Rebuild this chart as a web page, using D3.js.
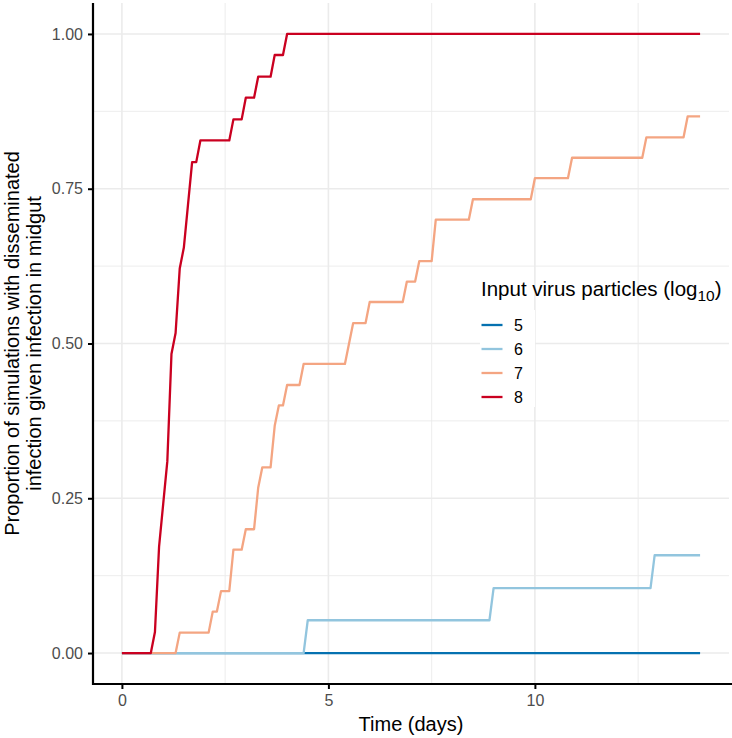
<!DOCTYPE html>
<html>
<head>
<meta charset="utf-8">
<script src="https://cdn.jsdelivr.net/npm/d3@7"></script>
<style>
  html, body { margin: 0; padding: 0; background: #fff; }
  svg { display: block; font-family: "Liberation Sans", Arial, Helvetica, sans-serif; }
</style>
</head>
<body>
<svg id="chart" width="732" height="738"></svg>
<script>
// ---------- data (time in days, proportion) ----------
const seriesLevels = ["5", "6", "7", "8"];
const seriesColors = ["#0571b0", "#92c5de", "#f4a582", "#ca0020"];

const series5 = [[0, 0], [14, 0]];

const series6 = [[0, 0], [4.4, 0], [4.5, 0.053], [8.9, 0.053], [9.0, 0.105],
  [12.8, 0.105], [12.9, 0.158], [14, 0.158]];

const series7 = [[0, 0], [1.3, 0], [1.4, 0.033], [2.1, 0.033], [2.2, 0.067], [2.3, 0.067],
  [2.4, 0.1], [2.6, 0.1], [2.7, 0.167], [2.9, 0.167], [3.0, 0.2], [3.2, 0.2], [3.3, 0.267],
  [3.4, 0.3], [3.6, 0.3], [3.7, 0.367], [3.8, 0.4], [3.9, 0.4], [4.0, 0.433], [4.3, 0.433],
  [4.4, 0.467], [5.4, 0.467], [5.5, 0.5], [5.6, 0.533], [5.9, 0.533], [6.0, 0.567],
  [6.8, 0.567], [6.9, 0.6], [7.1, 0.6], [7.2, 0.633], [7.5, 0.633], [7.6, 0.7], [8.4, 0.7],
  [8.5, 0.733], [9.9, 0.733], [10.0, 0.767], [10.8, 0.767], [10.9, 0.8], [12.6, 0.8],
  [12.7, 0.833], [13.6, 0.833], [13.7, 0.867], [14, 0.867]];

const series8 = [[0, 0], [0.7, 0], [0.8, 0.034], [0.9, 0.172], [1.0, 0.241], [1.1, 0.310],
  [1.2, 0.483], [1.3, 0.517], [1.4, 0.621], [1.5, 0.655], [1.6, 0.724], [1.7, 0.793],
  [1.8, 0.793], [1.9, 0.828], [2.6, 0.828], [2.7, 0.862], [2.9, 0.862], [3.0, 0.897],
  [3.2, 0.897], [3.3, 0.931], [3.6, 0.931], [3.7, 0.966], [3.9, 0.966], [4.0, 1.0], [14, 1.0]];

const xTicks = [0, 5, 10];
const xMinor = [2.5, 7.5, 12.5];
const yTicks = [0, 0.25, 0.5, 0.75, 1.0];
const yMinor = [0.125, 0.375, 0.625, 0.875];

const xTitle = "Time (days)";
const yTitleLines = ["Proportion of simulations with disseminated", "infection given infection in midgut"];
const legendTitle = "Input virus particles (log";

// ---------- layout ----------
const svg = d3.select("#chart");
const panel = { left: 93, right: 729, top: 3, bottom: 684 };

const xDomain = [0, 14];
const yDomain = [0, 1];
const xPad = (xDomain[1] - xDomain[0]) * 0.05;
const yPad = (yDomain[1] - yDomain[0]) * 0.05;

const x = d3.scaleLinear().domain([xDomain[0] - xPad, xDomain[1] + xPad]).range([panel.left, panel.right]);
const y = d3.scaleLinear().domain([yDomain[0] - yPad, yDomain[1] + yPad]).range([panel.bottom, panel.top]);

const grid = svg.append("g");
// minor grid
grid.selectAll(".vminor").data(xMinor).enter().append("line")
  .attr("x1", d => x(d)).attr("x2", d => x(d)).attr("y1", panel.top).attr("y2", panel.bottom)
  .attr("stroke", "#ebebeb").attr("stroke-width", 0.9);
grid.selectAll(".hminor").data(yMinor).enter().append("line")
  .attr("y1", d => y(d)).attr("y2", d => y(d)).attr("x1", panel.left).attr("x2", panel.right)
  .attr("stroke", "#ebebeb").attr("stroke-width", 0.9);
// major grid
grid.selectAll(".vmajor").data(xTicks).enter().append("line")
  .attr("x1", d => x(d)).attr("x2", d => x(d)).attr("y1", panel.top).attr("y2", panel.bottom)
  .attr("stroke", "#ebebeb").attr("stroke-width", 1.6);
grid.selectAll(".hmajor").data(yTicks).enter().append("line")
  .attr("y1", d => y(d)).attr("y2", d => y(d)).attr("x1", panel.left).attr("x2", panel.right)
  .attr("stroke", "#ebebeb").attr("stroke-width", 1.6);

// ---------- lines ----------
const line = d3.line().x(d => x(d[0])).y(d => y(d[1]));
const allSeries = [series5, series6, series7, series8];
svg.append("g").selectAll("path").data(allSeries).enter().append("path")
  .attr("d", d => line(d))
  .attr("fill", "none")
  .attr("stroke", (d, i) => seriesColors[i])
  .attr("stroke-width", 2.3)
  .attr("stroke-linejoin", "round");

// ---------- axes ----------
const xAxis = d3.axisBottom(x).tickValues(xTicks).tickFormat(d3.format("d")).tickSize(5).tickPadding(6);
const yAxis = d3.axisLeft(y).tickValues(yTicks).tickFormat(d3.format(".2f")).tickSize(5).tickPadding(5);

const gx = svg.append("g").attr("transform", `translate(0,${panel.bottom})`).call(xAxis);
const gy = svg.append("g").attr("transform", `translate(${panel.left},0)`).call(yAxis);
[gx, gy].forEach(g => {
  g.select(".domain").remove();
  g.selectAll(".tick line").attr("stroke", "#000").attr("stroke-width", 2);
  g.selectAll(".tick text").attr("fill", "#4d4d4d").style("font-size", "16px")
    .style("font-family", "'Liberation Sans', Arial, sans-serif");
});
// axis lines
svg.append("line").attr("x1", panel.left).attr("x2", panel.left)
  .attr("y1", panel.top).attr("y2", panel.bottom + 1)
  .attr("stroke", "#000").attr("stroke-width", 2.2);
svg.append("line").attr("x1", panel.left - 1).attr("x2", panel.right + 3)
  .attr("y1", panel.bottom).attr("y2", panel.bottom)
  .attr("stroke", "#000").attr("stroke-width", 2.2);

// axis titles
svg.append("text").attr("x", (panel.left + panel.right) / 2).attr("y", 731)
  .attr("text-anchor", "middle").style("font-size", "20px").attr("fill", "#000").text(xTitle);

const yt = svg.append("text")
  .attr("transform", `translate(0,${(panel.top + panel.bottom) / 2}) rotate(-90)`)
  .attr("text-anchor", "middle").style("font-size", "20px").attr("fill", "#000");
yTitleLines.forEach((t, i) => {
  yt.append("tspan").attr("x", 0).attr("y", i === 0 ? 19 : 41).text(t);
});

// ---------- legend ----------
const lg = svg.append("g");
lg.append("rect").attr("x", 480).attr("y", 310).attr("width", 55).attr("height", 97).attr("fill", "#fff");
const lt = lg.append("text").attr("x", 481).attr("y", 296).style("font-size", "20.5px").attr("fill", "#000");
lt.append("tspan").text(legendTitle);
lt.append("tspan").attr("dy", 5).style("font-size", "15.5px").text("10");
lt.append("tspan").attr("dy", -5).text(")");

const keyY = d3.scalePoint().domain(seriesLevels).range([325, 397]);
seriesLevels.forEach((lv, i) => {
  lg.append("line").attr("x1", 481.5).attr("x2", 502.5).attr("y1", keyY(lv)).attr("y2", keyY(lv))
    .attr("stroke", seriesColors[i]).attr("stroke-width", 2.3);
  lg.append("text").attr("x", 514).attr("y", keyY(lv)).attr("dy", "0.36em")
    .style("font-size", "16px").attr("fill", "#000").text(lv);
});
</script>
</body>
</html>
